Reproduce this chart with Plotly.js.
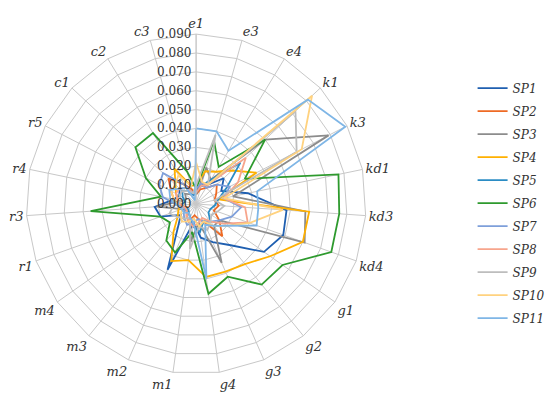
<!DOCTYPE html>
<html>
<head>
<meta charset="utf-8">
<script src="https://cdn.plot.ly/plotly-3.0.1.min.js"></script>
<style>html,body{margin:0;padding:0;background:#fff;}#chart{width:550px;height:398px;}</style>
</head>
<body>
<div id="chart"></div>
<script>
const categories = ["e1","e3","e4","k1","k3","kd1","kd3","kd4","g1","g2","g3","g4","m1","m2","m3","m4","r1","r3","r4","r5","c1","c2","c3"];
const seriesNames = ["SP1","SP2","SP3","SP4","SP5","SP6","SP7","SP8","SP9","SP10","SP11"];
const SP1  = [0.008,0.010,0.012,0.020,0.015,0.028,0.048,0.049,0.044,0.028,0.022,0.018,0.010,0.038,0.015,0.010,0.020,0.022,0.012,0.010,0.012,0.010,0.006];
const SP2  = [0.005,0.008,0.010,0.015,0.012,0.010,0.012,0.010,0.015,0.022,0.010,0.008,0.006,0.010,0.008,0.006,0.005,0.010,0.012,0.015,0.020,0.012,0.008];
const SP3  = [0.005,0.020,0.015,0.050,0.079,0.020,0.058,0.061,0.015,0.015,0.034,0.010,0.020,0.008,0.006,0.006,0.008,0.021,0.008,0.006,0.008,0.006,0.005];
const SP4  = [0.010,0.018,0.020,0.026,0.036,0.012,0.060,0.060,0.048,0.041,0.039,0.039,0.030,0.033,0.019,0.012,0.010,0.008,0.010,0.012,0.015,0.022,0.010];
const SP5  = [0.006,0.010,0.015,0.032,0.018,0.012,0.010,0.008,0.008,0.012,0.010,0.015,0.012,0.008,0.006,0.005,0.006,0.008,0.006,0.008,0.010,0.008,0.005];
const SP6  = [0.008,0.035,0.023,0.050,0.029,0.077,0.076,0.076,0.056,0.055,0.042,0.048,0.015,0.028,0.025,0.017,0.020,0.056,0.019,0.030,0.044,0.044,0.018];
const SP7  = [0.008,0.012,0.010,0.015,0.020,0.015,0.024,0.020,0.015,0.012,0.010,0.008,0.010,0.012,0.010,0.008,0.006,0.010,0.018,0.022,0.024,0.012,0.006];
const SP8  = [0.006,0.010,0.012,0.036,0.025,0.015,0.026,0.029,0.018,0.012,0.008,0.010,0.012,0.010,0.008,0.006,0.006,0.008,0.010,0.012,0.012,0.010,0.006];
const SP9  = [0.010,0.038,0.012,0.072,0.060,0.010,0.015,0.012,0.010,0.012,0.015,0.012,0.024,0.008,0.010,0.012,0.015,0.012,0.008,0.010,0.010,0.008,0.006];
const SP10 = [0.022,0.012,0.012,0.084,0.063,0.015,0.046,0.030,0.020,0.015,0.010,0.012,0.008,0.010,0.012,0.010,0.008,0.010,0.012,0.015,0.015,0.018,0.010];
const SP11 = [0.040,0.040,0.033,0.081,0.089,0.033,0.033,0.034,0.020,0.015,0.012,0.040,0.010,0.008,0.006,0.008,0.008,0.010,0.014,0.016,0.012,0.010,0.002];
const radialTicks = [0,0.01,0.02,0.03,0.04,0.05,0.06,0.07,0.08,0.09];
const radialTickText = ["0.000","0.010","0.020","0.030","0.040","0.050","0.060","0.070","0.080","0.090"];

const allSeries = [SP1,SP2,SP3,SP4,SP5,SP6,SP7,SP8,SP9,SP10,SP11];
const colors = ["#1F5FB0","#EE6A24","#8C8C8C","#FFB000","#2B8CC4","#2E9A2E","#7E9FDA","#F7A58C","#BDBDBD","#FFD27F","#7FB6E6"];
const serif = "DejaVu Serif";

const traces = allSeries.map((vals, i) => ({
  type: "scatterpolar",
  mode: "lines",
  name: seriesNames[i],
  legendgroup: seriesNames[i],
  r: vals.concat([vals[0]]),
  theta: categories.concat([categories[0]]),
  line: {color: colors[i], width: 1.8},
  hoverinfo: "skip"
}));

const layout = {
  width: 550, height: 398,
  margin: {l: 0, r: 0, t: 0, b: 0},
  paper_bgcolor: "#fff",
  font: {family: serif},
  showlegend: true,
  legend: {
    x: 0.885, y: 0.815, xanchor: "left", yanchor: "top",
    font: {family: serif, size: 12, color: "#333", style: "italic"},
    tracegroupgap: 4,
    traceorder: "grouped"
  },
  polar: {
    domain: {x: [27/550, 377/550], y: [19/398, 369/398]},
    gridshape: "linear",
    bgcolor: "#fff",
    angularaxis: {
      type: "category",
      categoryarray: categories,
      direction: "clockwise",
      rotation: 90,
      showline: true, linecolor: "#C8C8C8", linewidth: 1,
      gridcolor: "#C8C8C8", gridwidth: 1,
      ticks: "",
      tickfont: {family: serif, size: 13, color: "#333", style: "italic"}
    },
    radialaxis: {
      range: [0, 0.09],
      tickvals: radialTicks,
      ticktext: radialTickText,
      angle: 90,
      tickangle: 90,
      side: "counterclockwise",
      showline: true, linecolor: "#C8C8C8", linewidth: 1,
      gridcolor: "#C8C8C8", gridwidth: 1,
      ticks: "",
      tickfont: {family: serif, size: 12, color: "#333"}
    }
  }
};

Plotly.newPlot("chart", traces, layout, {staticPlot: true, displayModeBar: false});
</script>
</body>
</html>
